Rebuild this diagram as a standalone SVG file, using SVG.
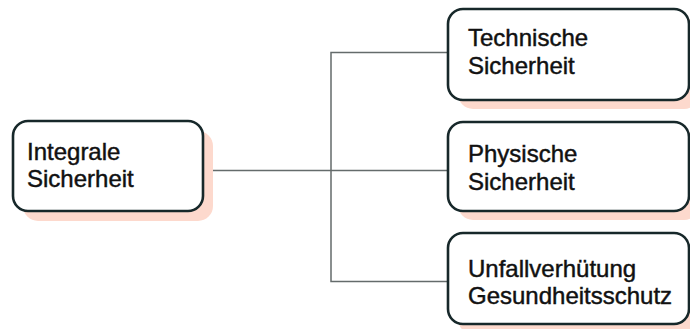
<svg xmlns="http://www.w3.org/2000/svg" width="690" height="329" viewBox="0 0 690 329">
<style>
.shadow{fill:#fdd9cd;stroke:none}
.box{fill:#ffffff;stroke:#17282a;stroke-width:2.6}
.lbl{font-family:"Liberation Sans",Arial,sans-serif;font-size:24px;fill:#111111;stroke:#111111;stroke-width:0.45}
.conn{fill:none;stroke:#646b6b;stroke-width:1.5}
</style>
<rect width="690" height="329" fill="#ffffff"/>
<g id="connectors">
<path class="conn" d="M203 170.5 H448"/>
<path class="conn" d="M448 52.5 H331 V281.5 H448"/>
</g>
<g id="integrale">
<rect class="shadow" x="23" y="131" width="190" height="90" rx="15"/>
<rect class="box" x="13" y="121" width="190" height="90" rx="15"/>
<text class="lbl" x="27" y="160">Integrale</text>
<text class="lbl" x="27" y="187">Sicherheit</text>
</g>
<g id="technische">
<rect class="shadow" x="458" y="18" width="241" height="91" rx="15"/>
<rect class="box" x="448" y="9" width="241" height="91" rx="15"/>
<text class="lbl" x="468" y="46">Technische</text>
<text class="lbl" x="468" y="74">Sicherheit</text>
</g>
<g id="physische">
<rect class="shadow" x="458" y="131" width="241" height="89" rx="15"/>
<rect class="box" x="448" y="122" width="241" height="89" rx="15"/>
<text class="lbl" x="468" y="162">Physische</text>
<text class="lbl" x="468" y="190">Sicherheit</text>
</g>
<g id="unfall">
<rect class="shadow" x="458" y="243" width="241" height="91" rx="15"/>
<rect class="box" x="448" y="233" width="241" height="91" rx="15"/>
<text class="lbl" x="468" y="277">Unfallverhütung</text>
<text class="lbl" x="468" y="304">Gesundheitsschutz</text>
</g>
</svg>
